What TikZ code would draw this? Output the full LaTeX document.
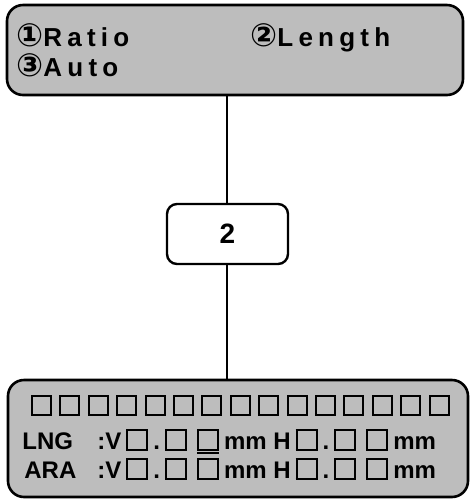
\documentclass[tikz,border=0pt]{standalone}
\usepackage{fontspec}
\setmainfont{Liberation Sans}
\newfontfamily\menufont[LetterSpace=20]{Liberation Sans}
\newfontfamily\symfont{DejaVu Sans}
\usetikzlibrary{positioning}
\definecolor{lcdGray}{gray}{0.74}
\newcommand{\circnum}[1]{{\symfont\fontsize{16}{16}\selectfont #1}}
\newcommand{\sqbx}{\hspace{2.5pt}{\setlength{\fboxsep}{0pt}\setlength{\fboxrule}{1pt}\fbox{\rule{0pt}{9pt}\hspace{9pt}}}\hspace{2.5pt}}
\newcommand{\sqbxu}{\hspace{2.5pt}\rlap{\rule[-2.6pt]{11pt}{1.2pt}}{\setlength{\fboxsep}{0pt}\setlength{\fboxrule}{1pt}\fbox{\rule{0pt}{9pt}\hspace{9pt}}}\hspace{2.5pt}}

\begin{document}
\begin{tikzpicture}[x=0.5pt, y=-0.5pt, font=\bfseries,
  panel/.style={draw, line width=1.3pt, fill=lcdGray, rounded corners=8pt, inner sep=0pt},
  keybox/.style={draw, line width=1.2pt, rounded corners=5pt, minimum width=60.5pt, minimum height=30pt, font=\fontsize{14}{16}\selectfont\bfseries},
  cell/.style={draw, line width=1pt, minimum size=9.5pt, inner sep=0pt},
  mtxt/.style={anchor=base west, inner sep=0pt, font=\fontsize{13}{15}\selectfont\bfseries},
  dtxt/.style={anchor=base west, inner sep=0pt, font=\fontsize{12}{14}\selectfont\bfseries},
  lnk/.style={line width=1pt}]
\useasboundingbox (0,0) rectangle (473,500);
% menu panel, key and display
\node[panel, minimum width=228pt, minimum height=45pt] (menu) at (235,50) {};
\node[keybox] (key) at (227.5,234) {2};
\node[panel, minimum width=230pt, minimum height=58.5pt] (disp) at (238,438.5) {};
\draw[lnk] (key.north) -- (key.north |- menu.south);
\draw[lnk] (key.south) -- (key.south |- disp.north);
% menu entries
\node[mtxt] (ratio) at (16,46) {\circnum{①}\menufont Ratio};
\node[mtxt] (length) at (250,46) {\circnum{②}\menufont Length};
\node[mtxt] (auto) at (16,76) {\circnum{③}\menufont Auto};
% display cells
\foreach \i in {0,...,14}
  \node[cell] (c\i) at ({41.5+28.4*\i},405) {};
\node[dtxt] (lng) at (22,449) {LNG};
\node[dtxt] (lngval) at (97,449) {:V\sqbx.\sqbx\sqbxu mm H\sqbx.\sqbx\sqbx mm};
\node[dtxt] (ara) at (24,478) {ARA};
\node[dtxt] (araval) at (97,478) {:V\sqbx.\sqbx\sqbx mm H\sqbx.\sqbx\sqbx mm};
\end{tikzpicture}
\end{document}
